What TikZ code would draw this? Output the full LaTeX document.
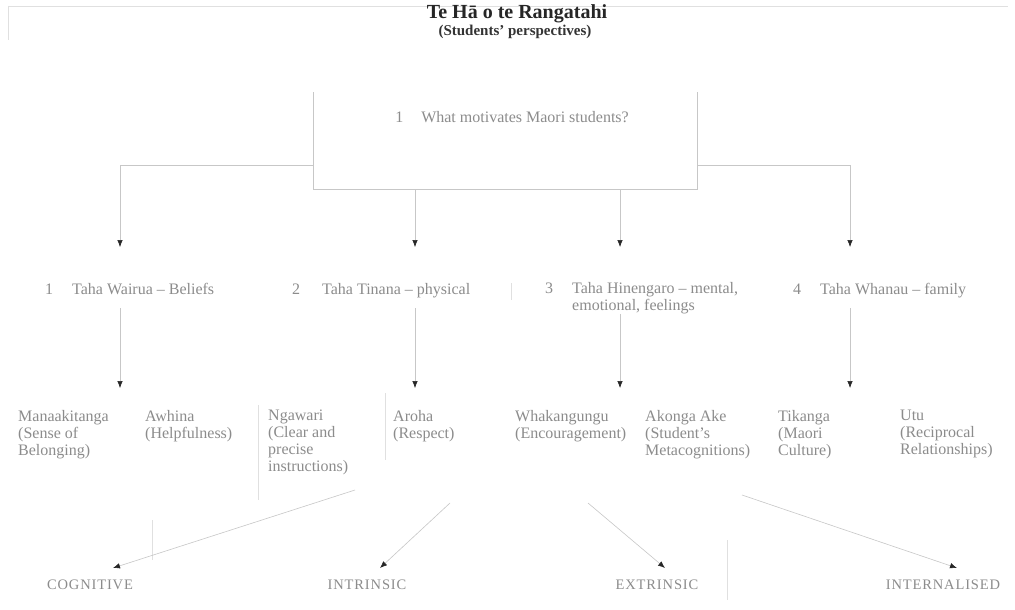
\documentclass[tikz,border=0pt]{standalone}
\usepackage{fontspec}
\setmainfont{Liberation Serif}
\usetikzlibrary{arrows.meta,positioning}
\definecolor{inkfade}{gray}{0.55}
\definecolor{linefade}{gray}{0.78}
\definecolor{edgefade}{gray}{0.88}
\tikzset{
  lbl/.style={text=inkfade,font=\fontsize{16}{17}\selectfont,inner sep=0pt,align=left},
  item/.style={lbl,anchor=north west,execute at begin node=\strut},
  capbox/.style={text=inkfade,font=\fontsize{14.5}{16}\selectfont\addfontfeatures{LetterSpace=6},inner sep=0pt},
  link/.style={draw=linefade,line width=0.6pt,-{Latex[length=7pt,width=5.5pt,color=black!85]}},
  wire/.style={draw=linefade,line width=0.6pt}
}
\begin{document}
\begin{tikzpicture}[x=1pt,y=-1pt]
\useasboundingbox[fill=white] (0,0) rectangle (1015,610);
\draw[edgefade] (8,6) -- (1008,6);
\draw[edgefade] (8,6) -- (8,40);
\node[font=\bfseries\fontsize{20}{22}\selectfont,text=black!85] (title) at (517,14) {Te Hā o te Rangatahi};
\node[font=\bfseries\fontsize{15}{17}\selectfont,text=black!80] (sub) at (515,32) {(Students' perspectives)};
\node[minimum width=384,minimum height=97,inner sep=0pt] (q) at (505,141) {};
\node[lbl] (qt) at (512,117) {1\hspace{18pt}What motivates Maori students?};
\draw[wire] (q.north west) -- (q.south west) -- (q.south east) -- (q.north east);
\node[lbl,anchor=base west] (t1) at (45,294) {\makebox[27pt][l]{1}Taha Wairua -- Beliefs};
\node[lbl,anchor=base west] (t2) at (292,294) {\makebox[30pt][l]{2}Taha Tinana -- physical};
\node[lbl,anchor=north west] (t3) at (545,282) {\makebox[27pt][l]{3}Taha Hinengaro -- mental,\\\hspace*{27pt}emotional, feelings};
\node[lbl,anchor=base west] (t4) at (793,294) {\makebox[27pt][l]{4}Taha Whanau -- family};
\coordinate (j1) at (120,165);
\coordinate (j4) at (850,165);
\coordinate (d1) at (120,247);
\coordinate (d2) at (415,247);
\coordinate (d3) at (620,247);
\coordinate (d4) at (850,247);
\draw[wire] (q.west |- j1) -- (j1);
\draw[wire] (q.east |- j4) -- (j4);
\draw[link] (j1) -- (d1);
\draw[link] (q.south -| d2) -- (d2);
\draw[link] (q.south -| d3) -- (d3);
\draw[link] (j4) -- (d4);
\node[item] (m1) at (18,410) {Manaakitanga\\(Sense of\\Belonging)};
\node[item] (m2) at (145,410) {Awhina\\(Helpfulness)};
\node[item] (m3) at (268,410) {Ngawari\\(Clear and\\precise\\instructions)};
\node[item] (m4) at (393,410) {Aroha\\(Respect)};
\node[item] (m5) at (515,410) {Whakangungu\\(Encouragement)};
\node[item] (m6) at (645,410) {Akonga Ake\\(Student's\\Metacognitions)};
\node[item] (m7) at (778,410) {Tikanga\\(Maori\\Culture)};
\node[item] (m8) at (900,410) {Utu\\(Reciprocal\\Relationships)};
\coordinate (e1) at (120,388);
\coordinate (e2) at (415,388);
\coordinate (e3) at (620,388);
\coordinate (e4) at (850,388);
\draw[link] (e1 |- 0,308) -- (e1);
\draw[link] (e2 |- 0,308) -- (e2);
\draw[link] (t3.south -| e3) -- (e3);
\draw[link] (e4 |- 0,308) -- (e4);
\draw[edgefade] (258,405) -- (258,500);
\draw[edgefade] (385,393) -- (385,460);
\draw[edgefade] (511,283) -- (511,300);
\draw[edgefade] (152,520) -- (152,560);
\draw[edgefade] (727,540) -- (727,600);
\node[capbox] (c1) at (90,585) {COGNITIVE};
\node[capbox] (c2) at (367,585) {INTRINSIC};
\node[capbox] (c3) at (657,585) {EXTRINSIC};
\node[capbox] (c4) at (943,585) {INTERNALISED};
\coordinate (b1) at (355,490);
\coordinate (b2) at (450,503);
\coordinate (b3) at (588,503);
\coordinate (b4) at (742,495);
\draw[link] (b1) -- (113,568);
\draw[link] (b2) -- (380,568);
\draw[link] (b3) -- (665,568);
\draw[link] (b4) -- (957,568);
\end{tikzpicture}
\end{document}
